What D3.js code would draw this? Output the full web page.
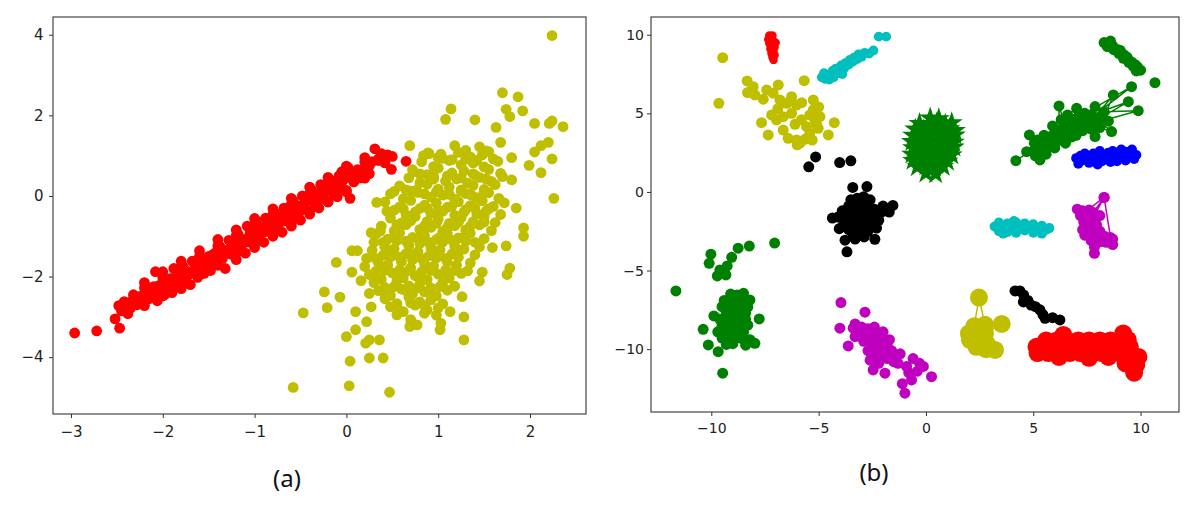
<!DOCTYPE html>
<html>
<head>
<meta charset="utf-8">
<script src="https://cdn.jsdelivr.net/npm/d3@7"></script>
<style>
body { margin: 0; background: #fff; }
</style>
</head>
<body>
<svg id="chart" width="1200" height="507"></svg>
<script>
// ---- panel (a) ----
var aXTicks = [-3, -2, -1, 0, 1, 2];
var aYTicks = [-4, -2, 0, 2, 4];
var aRed = [
	[-2.96,-3.40],[-2.72,-3.35],[-2.52,-3.05],[-2.47,-3.28],[-2.48,-2.72],[-2.45,-2.85],[-2.42,-2.62],[-2.38,-2.92],
	[-2.35,-2.78],[-2.32,-2.45],[-2.28,-2.70],[-2.25,-2.52],[-2.22,-2.62],[-2.18,-2.38],[-2.15,-2.55],[-2.12,-2.45],
	[-2.10,-2.25],[-2.08,-1.88],[-2.06,-2.60],[-2.04,-2.35],[-2.00,-2.12],[-1.98,-2.45],[-1.95,-2.28],[-1.92,-2.05],
	[-1.90,-2.40],[-1.88,-1.80],[-1.85,-2.18],[-1.82,-1.98],[-1.80,-2.30],[-1.78,-1.75],[-1.75,-2.05],[-1.72,-1.90],
	[-1.70,-2.20],[-1.68,-1.62],[-1.65,-1.85],[-1.62,-2.02],[-1.60,-1.70],[-1.57,-1.55],[-1.55,-1.92],[-1.52,-1.75],
	[-1.50,-1.50],[-1.48,-1.85],[-1.45,-1.62],[-1.42,-1.40],[-1.40,-1.72],[-1.38,-1.25],[-1.35,-1.55],[-1.32,-1.80],
	[-1.30,-1.35],[-1.28,-1.10],[-1.25,-1.45],[-1.22,-1.22],[-1.20,-1.58],[-1.18,-0.95],[-1.15,-1.30],[-1.12,-1.08],
	[-1.10,-1.42],[-1.08,-0.75],[-1.05,-1.15],[-1.02,-0.92],[-1.00,-1.28],[-0.98,-0.62],[-0.95,-1.00],[-0.92,-0.78],
	[-0.90,-1.15],[-0.88,-0.55],[-0.85,-0.88],[-0.82,-0.65],[-0.80,-1.00],[-0.78,-0.42],[-0.75,-0.75],[-0.72,-0.52],
	[-0.70,-0.90],[-0.68,-0.30],[-0.65,-0.62],[-0.62,-0.40],[-0.60,-0.75],[-0.58,-0.12],[-0.55,-0.48],[-0.52,-0.25],
	[-0.50,-0.60],[-0.48,0.00],[-0.45,-0.32],[-0.42,-0.10],[-0.40,-0.45],[-0.38,0.15],[-0.35,-0.18],[-0.32,0.05],
	[-0.30,-0.30],[-0.28,0.28],[-0.25,-0.05],[-0.22,0.18],[-0.20,-0.15],[-0.18,0.40],[-0.15,0.08],[-0.12,0.30],
	[-0.10,-0.02],[-0.08,0.50],[-0.05,0.22],[-0.02,0.42],[0.00,0.10],[0.04,-0.06],[0.05,0.55],[0.08,0.35],
	[0.12,0.65],[0.15,0.45],[0.18,0.62],[0.22,0.78],[0.25,0.55],[0.28,0.85],[0.31,1.17],[0.35,0.92],
	[0.38,1.05],[0.42,0.82],[0.45,1.02],[0.49,0.66],[0.50,0.98],[0.65,0.86],[-0.05,0.60],[0.02,0.70]
];
// points along the middle of the red band
var aRedMid = [
	[-2.45,-2.75],[-2.35,-2.63],[-2.25,-2.49],[-2.15,-2.37],[-2.05,-2.23],[-1.95,-2.11],[-1.85,-1.97],[-1.75,-1.85],
	[-1.65,-1.71],[-1.55,-1.59],[-1.45,-1.45],[-1.35,-1.33],[-1.25,-1.19],[-1.15,-1.07],[-1.05,-0.93],[-0.95,-0.81],
	[-0.85,-0.67],[-0.75,-0.55],[-0.65,-0.41],[-0.55,-0.29],[-0.45,-0.15],[-0.35,-0.03],[-0.25,0.11],[-0.15,0.23],
	[-0.05,0.37],[0.05,0.49],[0.15,0.63],[0.25,0.75],[0.35,0.88],[0.45,0.99],
	[-2.20,-2.28],[-2.10,-2.45],[-2.00,-2.02],[-1.90,-2.19],[-1.80,-1.76],[-1.70,-1.93],[-1.60,-1.50],[-1.50,-1.67],
	[-1.40,-1.24],[-1.30,-1.41],[-1.20,-0.98],[-1.10,-1.15],[-1.00,-0.72],[-0.90,-0.89],[-0.80,-0.46],[-0.70,-0.63],
	[-0.60,-0.20],[-0.50,-0.37],[-0.40,0.06],[-0.30,-0.11],[-0.20,0.32],[-0.10,0.15],[0.00,0.58],[0.10,0.41],[0.20,0.84]
];
// upper and lower edge of the red band
var aRedEdge = [
	[-2.20,-2.15],[-2.20,-2.72],[-2.00,-1.88],[-2.00,-2.48],[-1.80,-1.62],[-1.80,-2.20],[-1.60,-1.36],[-1.60,-1.96],
	[-1.40,-1.08],[-1.40,-1.70],[-1.20,-0.84],[-1.20,-1.42],[-1.00,-0.56],[-1.00,-1.18],[-0.80,-0.32],[-0.80,-0.90],
	[-0.60,-0.06],[-0.60,-0.66],[-0.40,0.22],[-0.40,-0.38],[-0.20,0.46],[-0.20,-0.14],[0.00,0.74],[0.00,0.14],
	[0.20,0.95],[0.20,0.44]
];
var aYellowCore = [
	[1.18,1.25],[1.30,1.13],[1.45,1.22],[1.52,1.12],
	[0.90,1.05],[1.05,0.93],[1.22,1.08],[1.35,0.97],[1.48,1.02],[1.60,0.92],
	[0.82,0.85],[0.95,0.73],[1.12,0.88],[1.25,0.77],[1.38,0.82],[1.50,0.72],[1.65,0.86],
	[0.72,0.65],[0.88,0.53],[1.00,0.69],[1.15,0.57],[1.28,0.62],[1.40,0.52],[1.55,0.66],[1.68,0.56],
	[0.68,0.45],[0.80,0.33],[0.95,0.49],[1.08,0.37],[1.20,0.42],[1.32,0.32],[1.45,0.46],[1.58,0.36],[1.70,0.48],
	[0.58,0.25],[0.75,0.13],[0.88,0.29],[1.00,0.17],[1.12,0.22],[1.25,0.12],[1.38,0.26],[1.50,0.16],[1.62,0.28],
	[0.48,0.05],[0.62,-0.07],[0.78,0.09],[0.92,-0.03],[1.05,0.02],[1.18,-0.08],[1.30,0.06],[1.42,-0.04],[1.55,0.08],[1.66,-0.06],
	[0.42,-0.15],[0.58,-0.27],[0.70,-0.11],[0.85,-0.23],[0.98,-0.18],[1.10,-0.28],[1.22,-0.14],[1.35,-0.24],[1.48,-0.12],[1.60,-0.26],[1.72,-0.17],
	[0.52,-0.35],[0.65,-0.47],[0.80,-0.31],[0.92,-0.43],[1.05,-0.38],[1.18,-0.48],[1.30,-0.34],[1.42,-0.44],[1.55,-0.32],[1.68,-0.46],
	[0.48,-0.55],[0.60,-0.67],[0.75,-0.51],[0.88,-0.63],[1.00,-0.58],[1.12,-0.68],[1.25,-0.54],[1.38,-0.64],[1.50,-0.52],[1.62,-0.66],
	[0.38,-0.75],[0.52,-0.87],[0.65,-0.71],[0.80,-0.83],[0.92,-0.78],[1.05,-0.88],[1.18,-0.74],[1.30,-0.84],[1.45,-0.72],[1.58,-0.86],
	[0.32,-0.95],[0.45,-1.07],[0.58,-0.91],[0.72,-1.03],[0.85,-0.98],[0.98,-1.08],[1.10,-0.94],[1.22,-1.04],[1.35,-0.92],[1.50,-1.06],
	[0.30,-1.15],[0.42,-1.27],[0.55,-1.11],[0.68,-1.23],[0.80,-1.18],[0.92,-1.28],[1.05,-1.14],[1.18,-1.24],[1.30,-1.12],[1.45,-1.26],
	[0.28,-1.35],[0.40,-1.47],[0.52,-1.31],[0.65,-1.43],[0.78,-1.38],[0.90,-1.48],[1.02,-1.34],[1.15,-1.44],[1.28,-1.32],[1.40,-1.46],
	[0.22,-1.55],[0.35,-1.67],[0.48,-1.51],[0.60,-1.63],[0.72,-1.58],[0.85,-1.68],[0.98,-1.54],[1.10,-1.64],[1.22,-1.52],[1.35,-1.66],
	[0.20,-1.75],[0.32,-1.87],[0.45,-1.71],[0.58,-1.83],[0.70,-1.78],[0.82,-1.88],[0.95,-1.74],[1.08,-1.84],[1.20,-1.72],[1.32,-1.86],
	[0.25,-1.95],[0.38,-2.07],[0.50,-1.91],[0.62,-2.03],[0.75,-1.98],[0.88,-2.08],[1.00,-1.94],[1.12,-2.04],[1.25,-1.92],
	[0.30,-2.15],[0.42,-2.27],[0.55,-2.11],[0.68,-2.23],[0.80,-2.18],[0.92,-2.28],[1.05,-2.14],[1.18,-2.24],
	[0.35,-2.35],[0.48,-2.47],[0.60,-2.31],[0.72,-2.43],[0.85,-2.38],[0.98,-2.48],[1.10,-2.34],
	[0.42,-2.55],[0.55,-2.67],[0.68,-2.51],[0.80,-2.63],[0.92,-2.58],[1.05,-2.68],
	[0.48,-2.75],[0.62,-2.87],[0.75,-2.71],[0.88,-2.83],[1.00,-2.78],
	[0.55,-2.95],[0.70,-3.07],[0.85,-2.91]
];
// extra points in the densest part of the yellow cloud
var aYellowFill = [
	[1.00,0.95],[1.15,0.90],[1.30,0.92],[1.42,0.88],
	[0.80,0.55],[0.95,0.42],[1.10,0.50],[1.25,0.45],[1.38,0.55],[1.52,0.42],
	[0.70,0.12],[0.85,0.05],[0.98,0.10],[1.12,0.04],[1.25,0.15],[1.36,0.02],[1.50,0.10],
	[0.62,-0.32],[0.75,-0.40],[0.88,-0.30],[1.00,-0.35],[1.15,-0.25],[1.28,-0.40],[1.40,-0.30],[1.52,-0.38],
	[0.55,-0.72],[0.70,-0.62],[0.85,-0.75],[0.98,-0.68],[1.10,-0.78],[1.22,-0.65],[1.35,-0.75],[1.50,-0.65],
	[0.40,-1.15],[0.52,-1.02],[0.65,-1.12],[0.78,-1.05],[0.90,-1.15],[1.02,-1.02],[1.15,-1.10],[1.28,-1.02],[1.40,-1.15],
	[0.32,-1.55],[0.45,-1.45],[0.58,-1.52],[0.70,-1.45],[0.82,-1.55],[0.95,-1.45],[1.08,-1.55],[1.20,-1.45],
	[0.30,-1.95],[0.42,-1.85],[0.55,-1.92],[0.68,-1.85],[0.80,-1.95],[0.92,-1.85],[1.05,-1.95],[1.18,-1.85],
	[0.40,-2.32],[0.52,-2.25],[0.65,-2.35],[0.78,-2.28],[0.90,-2.35],[1.02,-2.25],
	[0.55,-2.72],[0.70,-2.65],[0.85,-2.72]
];
var aYellowOut = [
	[2.24,3.98],[1.70,2.56],[1.87,2.46],[1.14,2.16],[1.08,1.90],[1.40,1.89],[1.74,2.15],[1.92,2.11],
	[2.05,1.80],[2.21,1.80],[2.24,1.86],[2.36,1.72],[1.63,1.70],[1.78,1.97],[1.68,1.33],[2.20,1.33],
	[2.12,1.25],[2.05,1.09],[2.24,0.92],[1.99,0.76],[2.12,0.58],[2.26,-0.06],[1.93,-0.79],[1.93,-1.00],
	[1.74,-1.24],[1.59,-1.28],[1.78,-1.79],[1.75,-1.95],[1.48,-1.89],[1.45,-2.11],[1.28,-3.00],[1.28,-3.57],
	[1.26,-2.50],[1.13,-2.87],[1.02,-3.32],[1.03,-3.16],[0.98,-2.96],[0.77,-3.20],[0.69,-3.24],[0.40,-4.02],
	[0.36,-3.57],[0.25,-4.02],[0.21,-3.65],[0.25,-3.57],[0.04,-4.10],[0.00,-3.49],[0.03,-4.71],[0.47,-4.87],
	[-0.58,-4.75],[0.10,-3.32],[0.10,-2.87],[0.22,-3.12],[-0.11,-1.65],[-0.24,-2.38],[-0.07,-2.51],[-0.21,-2.77],
	[-0.47,-2.90],[0.06,-1.36],[0.12,-1.36],[0.06,-1.89],[0.16,-2.10],[0.25,-2.42],[0.27,-2.75],[0.33,-0.16],
	[0.44,-0.38],[0.52,0.11],[0.69,1.25],[0.84,1.00],[0.89,1.07],[1.03,1.04],[0.65,0.15],[0.73,0.60],
	[0.27,-0.91],[0.37,-0.87],[1.55,1.10],[1.80,0.40],[1.85,-0.30],[1.80,0.95]
];

// ---- panel (b) ----
var bXTicks = [-10, -5, 0, 5, 10];
var bYTicks = [-10, -5, 0, 5, 10];
var bRedTop = [[-7.30,9.95],[-7.15,9.95],[-7.35,9.70],[-7.20,9.75],[-7.10,9.60],[-7.30,9.45],[-7.15,9.35],[-7.05,9.20],
	[-7.25,9.10],[-7.10,8.95],[-7.20,8.80],[-7.05,8.70],[-7.15,8.55],[-7.10,8.40],[-7.00,9.50],[-7.25,9.85]];
var bCyanTop = [[-4.85,7.30],[-4.70,7.20],[-4.55,7.35],[-4.75,7.55],[-4.45,7.50],[-4.30,7.30],[-4.35,7.70],[-4.15,7.55],
	[-4.20,7.85],[-4.00,7.75],[-3.95,8.05],[-3.80,7.90],[-3.75,8.20],[-3.60,8.10],[-3.55,8.40],[-3.40,8.30],[-3.35,8.55],
	[-3.20,8.45],[-3.15,8.75],[-3.00,8.60],[-2.85,8.85],[-2.65,8.80],[-2.45,9.00],[-2.20,9.88],[-1.85,9.88],[-3.90,7.50],[-4.50,7.15]];
var bYellowTop = [[-9.47,8.54],[-9.65,5.64],[-5.67,7.08],[-8.33,7.06],[-8.05,6.70],[-8.31,6.32],[-7.42,6.49],[-6.88,6.81],
	[-7.12,6.28],[-7.58,5.90],[-6.80,5.85],[-6.26,6.06],[-5.79,5.68],[-5.25,5.85],[-6.26,5.00],[-6.96,4.58],[-7.66,4.41],
	[-7.35,3.63],[-6.65,3.94],[-6.42,3.41],[-5.87,3.10],[-5.64,3.35],[-5.56,4.15],[-5.17,4.58],[-4.94,4.79],[-5.25,5.22],
	[-5.02,4.05],[-4.55,3.63],[-4.27,4.41],[-5.41,3.73],[-6.65,4.79],[-7.19,4.90],[-6.03,3.31],[-5.41,4.90],[-6.49,5.64],
	[-6.03,5.53],[-7.97,6.17],[-5.10,4.30],[-6.10,4.30],[-5.80,4.60],[-6.90,5.30],[-5.00,5.40],[-6.00,3.00],[-5.30,3.30]];
var bBlackTop = [[-5.46,1.60],[-5.14,2.23],[-4.02,1.87],[-3.50,1.98]];
var bBlackMid = [[-3.41,0.29],[-2.75,0.34],[-4.36,-1.66],[-1.54,-0.86],[-1.71,-1.28],[-3.68,-3.81],[-3.77,-3.07],[-2.88,-2.86],
	[-2.38,-3.01],[-4.04,-2.34],[-3.60,-0.90],[-3.30,-0.70],[-3.00,-0.60],[-2.70,-0.90],[-2.40,-1.10],[-2.10,-1.30],
	[-3.90,-1.20],[-3.70,-1.50],[-3.40,-1.30],[-3.10,-1.10],[-2.80,-1.40],[-2.50,-1.60],[-2.20,-1.80],[-1.90,-1.20],
	[-3.80,-1.90],[-3.50,-1.80],[-3.20,-1.60],[-2.90,-1.90],[-2.60,-2.10],[-2.30,-2.30],[-3.90,-2.20],[-3.60,-2.40],
	[-3.30,-2.10],[-3.00,-2.30],[-2.70,-2.50],[-3.40,-2.70],[-3.10,-2.60],[-3.20,-0.40],[-2.90,-0.30],[-3.50,-0.50],
	[-2.60,-0.50],[-2.00,-0.90],[-4.10,-1.60],[-3.30,-3.00]];
var bGreenStar = [[0.20,4.70],[0.60,4.65],
	[-0.30,4.35],[0.10,4.30],[0.50,4.38],[0.90,4.30],[1.20,4.40],
	[-0.50,4.00],[-0.10,3.95],[0.30,4.05],[0.70,3.98],[1.10,4.02],[1.35,3.90],
	[-0.60,3.60],[-0.20,3.65],[0.20,3.58],[0.60,3.62],[1.00,3.55],[1.35,3.62],
	[-0.65,3.20],[-0.25,3.15],[0.15,3.22],[0.55,3.18],[0.95,3.25],[1.30,3.15],
	[-0.60,2.80],[-0.20,2.85],[0.20,2.78],[0.60,2.82],[1.00,2.75],[1.30,2.85],
	[-0.65,2.40],[-0.25,2.35],[0.15,2.42],[0.55,2.38],[0.95,2.45],[1.20,2.35],
	[-0.60,2.00],[-0.20,2.05],[0.20,1.98],[0.60,2.02],[1.00,1.95],
	[-0.40,1.60],[0.00,1.65],[0.40,1.58],[0.80,1.62],
	[0.00,1.20],[0.45,1.15]];
var bGreenLinks = [[4.19,1.99],[5.30,3.00],[5.10,2.30],[5.60,2.40],[5.31,2.04],[6.00,2.80],[4.69,2.56],[5.50,2.70],
	[6.50,3.10],[4.82,3.63],[5.80,3.00],[6.20,3.90],[6.20,5.47],[6.50,4.20],[5.90,4.20],[7.00,3.60],[6.30,4.60],
	[7.02,5.32],[6.80,4.50],[7.88,3.52],[7.10,4.70],[6.60,4.90],[7.40,5.00],[9.58,6.70],[7.30,4.30],[8.00,4.60],
	[9.43,5.74],[7.70,4.90],[8.65,3.84],[8.10,4.10],[8.73,6.17],[7.60,4.30],[9.89,5.17],[8.30,5.10],[7.88,5.43],
	[8.50,4.50],[6.70,3.90],[5.60,3.30],[6.10,3.30],[5.90,3.60],[6.40,3.60],[7.00,4.10],[5.20,2.60],[5.05,3.10],
	[5.40,2.90],[5.70,3.10],[6.00,3.40],[6.30,3.70],[6.60,4.00],[6.90,4.30],[7.20,4.50],[7.50,4.70],[7.80,4.60],
	[5.00,2.60],[5.20,3.30],[5.50,3.60],[6.80,3.50],[7.30,3.90],[7.70,4.00],[8.20,4.80]];
var bGreenDiag = [[8.30,9.50],[8.50,9.45],[8.45,9.25],[8.70,9.30],[8.75,9.05],[8.95,9.05],[9.00,8.80],[9.20,8.75],
	[9.20,8.50],[9.40,8.50],[9.45,8.25],[9.60,8.25],[9.65,8.00],[9.85,7.95],[9.80,7.70],[10.00,7.75],[8.60,9.60],
	[9.05,9.00],[9.35,8.60],[9.75,8.10],[10.67,6.95]];
var bBlue = [[7.00,2.15],[7.20,2.30],[7.20,1.95],[7.40,2.45],[7.40,2.05],[7.60,2.30],[7.60,1.85],[7.80,2.45],
	[7.80,2.05],[8.00,2.20],[8.00,1.75],[8.20,2.40],[8.20,1.95],[8.40,2.15],[8.50,2.50],[8.60,1.90],[8.70,2.60],
	[8.70,2.20],[8.90,2.50],[8.90,1.95],[9.10,2.70],[9.10,2.25],[9.30,2.55],[9.30,2.00],[9.50,2.40],[9.60,2.70],
	[9.70,2.10],[9.80,2.35],[8.10,2.60],[7.10,1.80]];
var bCyanMid = [[3.20,-2.20],[3.40,-1.95],[3.40,-2.50],[3.60,-2.25],[3.80,-2.00],[3.80,-2.55],[4.00,-2.30],[4.20,-1.95],
	[4.20,-2.60],[4.40,-2.20],[4.60,-2.45],[4.60,-2.00],[4.80,-2.30],[5.00,-2.05],[5.00,-2.60],[5.20,-2.35],[5.40,-2.15],
	[5.40,-2.65],[5.60,-2.40],[5.75,-2.30],[4.10,-1.85],[3.60,-2.65]];
var bMagentaRight = [[7.05,-1.10],[7.30,-1.20],[7.20,-1.50],[8.30,-0.35],[7.80,-1.30],[7.60,-1.15],[7.50,-1.60],[7.80,-1.70],
	[8.10,-1.50],[7.35,-1.90],[7.65,-2.00],[8.30,-0.35],[8.60,-2.90],[7.95,-2.10],[7.50,-2.30],[7.30,-2.40],[7.80,-2.40],
	[8.10,-2.50],[7.60,-2.70],[7.40,-2.75],[7.90,-2.80],[8.30,-2.80],[8.70,-3.00],[7.70,-3.10],[8.00,-3.20],[8.40,-3.20],
	[8.70,-3.35],[7.85,-3.50],[7.85,-3.90]];
var bGreenLow = [[-11.65,-6.30],[-7.05,-3.25],[-8.23,-3.44],[-8.75,-3.58],[-9.05,-4.16],[-9.26,-4.71],[-9.60,-4.96],
	[-9.72,-5.34],[-9.32,-5.28],[-10.02,-3.96],[-10.10,-4.54],[-10.38,-8.74],[-10.14,-9.73],[-9.68,-10.16],[-9.47,-11.53],
	[-7.77,-8.08],[-9.88,-7.89],[-7.97,-9.63],
	[-9.10,-6.50],[-8.80,-6.55],[-8.50,-6.45],
	[-9.40,-6.90],[-9.10,-6.95],[-8.80,-6.85],[-8.50,-6.92],[-8.20,-6.88],
	[-9.50,-7.30],[-9.20,-7.25],[-8.90,-7.35],[-8.60,-7.28],[-8.30,-7.32],
	[-9.30,-7.70],[-9.00,-7.75],[-8.70,-7.65],[-8.40,-7.72],
	[-9.60,-8.10],[-9.30,-8.05],[-9.00,-8.15],[-8.70,-8.08],[-8.40,-8.12],
	[-9.50,-8.50],[-9.20,-8.55],[-8.90,-8.45],[-8.60,-8.52],[-8.30,-8.48],
	[-9.70,-8.90],[-9.40,-8.85],[-9.10,-8.95],[-8.80,-8.88],[-8.50,-8.92],
	[-9.50,-9.30],[-9.20,-9.35],[-8.90,-9.25],[-8.60,-9.32],[-8.20,-9.40],
	[-9.30,-9.70],[-9.00,-9.65],[-8.40,-9.75]];
var bMagentaLow = [[-3.96,-7.04],[-2.84,-7.65],[-4.01,-8.67],[-3.39,-8.67],[-3.62,-9.80],[-0.90,-11.10],[-0.12,-11.10],
	[0.26,-11.75],[-0.98,-12.80],[-0.67,-11.96],[-2.46,-11.32],[-1.91,-11.53],
	[-3.30,-8.40],[-3.00,-8.60],[-2.70,-8.70],[-3.10,-9.00],[-2.80,-9.10],[-2.50,-9.00],[-2.20,-9.20],[-2.90,-9.50],
	[-2.60,-9.40],[-2.30,-9.60],[-2.00,-9.50],[-1.80,-9.80],[-2.50,-9.90],[-2.20,-10.00],[-1.90,-10.20],[-1.60,-10.10],
	[-1.40,-10.50],[-2.10,-10.50],[-1.80,-10.60],[-1.50,-10.80],[-2.40,-10.30],[-2.70,-10.10],[-3.30,-9.20],[-1.20,-10.30],
	[-2.00,-8.90],[-2.40,-8.60],[-1.70,-9.40],[-2.20,-10.90],[-2.60,-10.70],[-1.30,-10.90],[-0.60,-10.60],[-0.40,-11.40],
	[-0.80,-11.50],[-1.10,-12.20],[-0.30,-10.90]];
var bYellowLow = [[2.25,-8.55],[2.47,-6.72],[2.75,-8.45],[3.53,-8.40],[2.75,-9.00],[2.05,-9.41],[2.50,-9.30],[2.67,-9.63],
	[3.22,-10.05],[2.80,-10.00],[2.35,-9.85],[2.00,-9.00],[2.85,-9.70]];
var bBlackDiag = [[4.15,-6.30],[4.38,-6.30],[4.55,-6.55],[4.54,-7.00],[4.75,-6.90],[4.90,-7.20],[5.10,-7.30],[5.31,-7.50],
	[5.45,-7.80],[5.55,-8.04],[5.90,-8.00],[6.24,-8.14]];
var bRedLow = [[5.60,-9.45],[6.10,-9.45],[6.60,-9.45],[7.10,-9.45],[7.60,-9.45],[8.10,-9.45],[8.60,-9.45],[9.10,-9.45],
	[5.20,-10.25],[5.70,-10.25],[6.20,-10.25],[6.70,-10.25],[7.20,-10.25],[7.70,-10.25],[8.20,-10.25],[8.70,-10.25],[9.20,-10.25],
	[5.15,-9.85],[5.90,-9.85],[6.90,-9.85],[7.90,-9.85],[8.90,-9.85],[9.50,-9.85],
	[6.40,-9.10],[9.19,-9.00],[9.40,-9.40],
	[9.60,-10.60],[9.80,-11.00],[9.70,-11.50],[9.30,-10.90],[9.90,-10.50],
	[6.20,-10.50],[7.60,-10.55],[8.50,-10.50]];

var svg = d3.select("#chart");
var intFmt = d3.format("d");

function makePanel(fr, xDom, yDom) {
	var x = d3.scaleLinear().domain(xDom).range([fr.left, fr.right]);
	var y = d3.scaleLinear().domain(yDom).range([fr.bottom, fr.top]);
	return {fr: fr, x: x, y: y, g: svg.append("g")};
}

function dots(p, data, color, r) {
	p.g.append("g")
		.selectAll("circle")
		.data(data)
		.enter()
		.append("circle")
		.attr("cx", d => p.x(d[0]))
		.attr("cy", d => p.y(d[1]))
		.attr("r", r)
		.attr("fill", color);
}

function links(p, data, color, w) {
	var line = d3.line().x(d => p.x(d[0])).y(d => p.y(d[1]));
	p.g.append("path")
		.attr("d", line(data))
		.attr("fill", "none")
		.attr("stroke", color)
		.attr("stroke-width", w);
}

function stars(p, data, color, size) {
	var sym = d3.symbol().type(d3.symbolStar).size(size);
	p.g.append("g")
		.selectAll("path")
		.data(data)
		.enter()
		.append("path")
		.attr("d", sym)
		.attr("transform", d => "translate(" + p.x(d[0]) + "," + p.y(d[1]) + ")")
		.attr("fill", color);
}

function axes(p, xTicks, yTicks, fs, xPad, yPad, label, lx, ly) {
	var fr = p.fr;
	var xa = p.g.append("g")
		.attr("transform", "translate(0," + fr.bottom + ")")
		.call(d3.axisBottom(p.x).tickValues(xTicks).tickFormat(intFmt).tickSize(4).tickPadding(xPad));
	xa.select(".domain").remove();
	var ya = p.g.append("g")
		.attr("transform", "translate(" + fr.left + ",0)")
		.call(d3.axisLeft(p.y).tickValues(yTicks).tickFormat(intFmt).tickSize(4).tickPadding(yPad));
	ya.select(".domain").remove();
	[xa, ya].forEach(a => {
		a.attr("font-family", "DejaVu Sans").attr("font-size", fs).attr("color", "#333");
		a.selectAll("text").attr("fill", "#222");
	});
	p.g.append("rect")
		.attr("x", fr.left)
		.attr("y", fr.top)
		.attr("width", fr.right - fr.left)
		.attr("height", fr.bottom - fr.top)
		.attr("fill", "none")
		.attr("stroke", "#333")
		.attr("stroke-width", 1.1);
	svg.append("text")
		.text(label)
		.attr("x", lx)
		.attr("y", ly)
		.attr("text-anchor", "middle")
		.attr("dominant-baseline", "central")
		.attr("font-family", "Noto Sans")
		.attr("font-size", 24)
		.attr("fill", "#111");
}

// panel (a)
var pa = makePanel({left: 53, right: 586, top: 17, bottom: 414}, [-3.196, 2.61], [-5.41, 4.44]);
dots(pa, aRed, "#ff0000", 5.4);
dots(pa, aRedMid, "#ff0000", 5.4);
dots(pa, aRedEdge, "#ff0000", 5.4);
dots(pa, aYellowCore, "#bfbf00", 5.4);
dots(pa, aYellowFill, "#bfbf00", 5.4);
dots(pa, aYellowOut, "#bfbf00", 5.4);
axes(pa, aXTicks, aYTicks, 15, 8.5, 5.5, "(a)", 287, 477);

// panel (b)
var pb = makePanel({left: 651, right: 1179, top: 17, bottom: 412}, [-12.81, 11.79], [-14.0, 11.13]);
dots(pb, bRedTop, "#ff0000", 4.2);
dots(pb, bCyanTop, "#00bfbf", 4.9);
dots(pb, bYellowTop, "#bfbf00", 5.5);
dots(pb, bBlackTop, "#000000", 5.5);
dots(pb, bBlackMid, "#000000", 5.5);
stars(pb, bGreenStar, "#008000", 150);
links(pb, bGreenLinks, "#008000", 1.5);
dots(pb, bGreenLinks, "#008000", 5.5);
dots(pb, bGreenDiag, "#008000", 5.5);
dots(pb, bBlue, "#0000ff", 5);
dots(pb, bCyanMid, "#00bfbf", 5);
links(pb, bMagentaRight, "#bf00bf", 1.5);
dots(pb, bMagentaRight, "#bf00bf", 5.5);
dots(pb, bGreenLow, "#008000", 5.5);
dots(pb, bMagentaLow, "#bf00bf", 5.5);
links(pb, bYellowLow, "#bfbf00", 1.5);
dots(pb, bYellowLow, "#bfbf00", 9);
dots(pb, bBlackDiag, "#000000", 5.5);
links(pb, bRedLow, "#ff0000", 1.5);
dots(pb, bRedLow, "#ff0000", 9);
axes(pb, bXTicks, bYTicks, 14, 7.5, 3, "(b)", 874, 471);
</script>
</body>
</html>
